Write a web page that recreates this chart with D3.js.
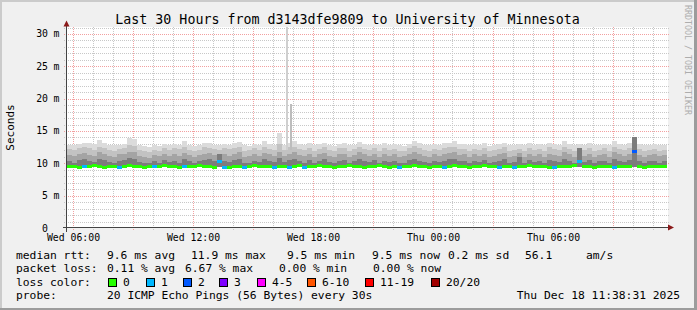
<!DOCTYPE html>
<html>
<head>
<meta charset="utf-8">
<script src="https://cdn.jsdelivr.net/npm/d3@7"></script>
<style>
  body { margin: 0; background: #f0f0f0; }
  svg { display: block; }
  text { font-family: "DejaVu Sans Mono", monospace; fill: #000; }
</style>
</head>
<body>
<svg class="chart"></svg>
<script>
// ---- data (values in ms, one column every 15 min from Wed 05:42) ----
const medianMs = [
  9.6,9.6,9.5,9.6,9.6,9.7,9.6,9.5,9.6,9.6, 9.5,9.6,9.7,9.6,9.6,9.5,9.6,9.6,9.6,9.7,
  9.6,9.6,9.5,9.6,9.6,9.6,9.7,9.6,9.6,9.5, 10.4,9.5,9.5,9.6,9.6,9.5,9.6,9.7,9.6,9.6,
  9.6,9.5,9.6,9.6,9.5,9.6,9.7,9.5,9.6,9.6, 9.7,9.6,9.6,9.5,9.6,9.6,9.7,9.6,9.6,9.5,
  9.6,9.6,9.7,9.6,9.5,9.6,9.5,9.6,9.6,9.7, 9.6,9.6,9.5,9.6,9.6,9.5,9.6,9.7,9.6,9.6,
  9.5,9.6,9.6,9.7,9.6,9.6,9.5,9.6,9.6,9.5, 9.6,9.6,9.7,9.6,9.6,9.6,9.5,9.5,9.6,9.6,
  9.6,9.7,10.4,9.6,9.6,9.5,9.6,9.6,9.6,9.5, 9.6,9.6,9.6,11.9,9.6,9.5,9.6,9.6,9.6,9.6
]
const lostPings = [
  0,0,0,1,0,0,0,0,0,0, 1,0,0,0,0,0,0,1,0,0,
  0,0,0,1,0,0,0,0,0,0, 1,1,0,0,0,1,0,0,0,0,
  0,1,0,0,1,0,0,1,0,0, 0,0,0,0,0,0,0,0,0,0,
  0,0,0,0,0,0,1,0,0,0, 0,0,0,0,0,1,0,0,0,0,
  0,0,0,0,0,0,1,0,0,1, 0,0,0,0,0,0,0,1,0,0,
  0,0,1,0,0,0,0,0,0,1, 0,0,0,2,0,0,0,0,0,0
]
// lowest ping of each column (bottom of the smoke)
const smokeLow = [
  9.4,9.4,9.3,9.4,9.4,9.5,9.4,9.3,9.4,9.4, 9.3,9.4,9.5,9.4,9.4,9.3,9.4,9.4,9.4,9.5,
  9.4,9.4,9.3,9.4,9.4,9.4,9.5,9.4,9.4,9.3, 9.5,9.3,9.3,9.4,9.4,9.3,9.4,9.5,9.4,9.4,
  9.4,9.3,9.4,9.4,9.3,9.4,9.5,9.3,9.4,9.4, 9.5,9.4,9.4,9.3,9.4,9.4,9.5,9.4,9.4,9.3,
  9.4,9.4,9.5,9.4,9.3,9.4,9.3,9.4,9.4,9.5, 9.4,9.4,9.3,9.4,9.4,9.3,9.4,9.5,9.4,9.4,
  9.3,9.4,9.4,9.5,9.4,9.4,9.3,9.4,9.4,9.3, 9.4,9.4,9.5,9.4,9.4,9.4,9.3,9.3,9.4,9.4,
  9.4,9.5,9.4,9.4,9.4,9.3,9.4,9.4,9.4,9.3, 9.4,9.4,9.4,9.5,9.4,9.3,9.4,9.4,9.4,9.4
]
// smoke: top of each band, outermost (lightest) first
const smokeTop = [
  12.9,12.8,13.0,13.1,13.2,13.0,13.6,13.1,12.9,12.8, 12.9,13.0,13.9,13.8,12.9,12.7,12.6,12.8,12.7,13.0,
  12.8,13.0,12.9,13.5,12.9,12.7,12.8,13.1,13.2,12.9, 12.8,13.0,12.9,13.1,13.3,12.8,12.7,13.0,12.9,13.4,
  13.0,12.9,14.7,12.8,13.2,13.4,13.0,12.9,13.1,12.8, 13.0,13.2,12.9,12.7,13.0,13.1,12.8,12.9,13.3,13.0,
  12.9,13.0,12.8,13.1,12.9,13.0,12.8,12.7,13.0,13.5, 13.1,12.9,12.8,13.0,12.9,13.1,13.2,13.5,13.0,13.0,
  12.8,13.0,12.9,13.1,12.7,12.9,13.0,13.2,12.8,12.9, 13.0,12.8,13.1,12.9,13.0,12.8,13.2,13.0,12.9,13.4,
  13.0,12.8,13.0,12.9,13.1,12.8,12.9,13.0,12.8,13.5, 13.0,12.9,13.1,14.1,13.0,12.8,12.9,13.0,12.8,12.9
]
const smokeQ2 = [
  12.2,12.0,12.3,12.5,12.3,12.1,12.6,12.4,12.0,11.9, 12.2,12.4,12.8,12.7,12.1,11.9,11.8,12.1,11.9,12.3,
  12.0,12.3,12.2,12.6,12.1,11.9,12.1,12.5,12.4,12.2, 12.1,12.4,12.2,12.3,12.6,11.9,12.0,12.3,12.0,12.5,
  12.2,12.0,13.0,12.1,12.5,12.6,12.2,12.0,12.4,11.9, 12.2,12.5,12.1,11.9,12.3,12.4,11.9,12.2,12.6,12.2,
  12.0,12.3,11.9,12.4,12.1,12.2,11.9,11.9,12.3,12.7, 12.4,12.1,11.9,12.2,12.0,12.3,12.5,12.6,12.2,12.2,
  11.9,12.2,12.0,12.4,11.9,12.1,12.2,12.5,11.9,12.1, 12.2,11.9,12.4,12.1,12.2,11.9,12.5,12.2,12.0,12.6,
  12.2,11.9,12.4,12.1,12.4,11.9,12.1,12.3,11.9,12.6, 12.2,12.0,12.4,14.0,12.2,11.9,12.1,12.2,11.9,12.1
]
const smokeQ3 = [
  11.3,11.1,11.5,11.6,11.3,11.2,11.7,11.5,11.2,11.0, 11.4,11.5,11.8,11.7,11.2,11.0,10.9,11.3,11.1,11.5,
  11.2,11.4,11.2,11.6,11.3,11.0,11.3,11.5,11.6,11.3, 11.5,11.4,11.2,11.5,11.7,11.0,11.1,11.4,11.2,11.6,
  11.4,11.2,11.8,11.2,11.5,11.7,11.3,11.1,11.5,11.0, 11.4,11.6,11.2,11.0,11.4,11.5,11.0,11.3,11.7,11.4,
  11.2,11.5,11.0,11.4,11.2,11.4,11.0,11.1,11.5,11.7, 11.4,11.2,11.0,11.4,11.2,11.4,11.6,11.7,11.3,11.4,
  11.0,11.4,11.2,11.5,11.0,11.2,11.4,11.6,11.0,11.2, 11.6,11.0,11.5,11.2,11.4,11.0,11.5,11.3,11.2,11.7,
  11.4,11.0,12.4,11.2,11.5,11.0,11.3,11.4,11.0,11.7, 11.4,11.2,11.5,14.0,11.3,11.0,11.3,11.4,11.1,11.3
]
const smokeQ4 = [
  10.3,10.1,10.5,10.6,10.3,10.2,10.7,10.5,10.2,10.0, 10.4,10.5,10.8,10.6,10.2,10.0,10.0,10.3,10.1,10.5,
  10.2,10.4,10.1,10.6,10.3,10.0,10.3,10.5,10.6,10.3, 11.4,10.4,10.2,10.5,10.7,10.0,10.1,10.4,10.2,10.6,
  10.4,10.2,10.8,10.2,10.5,10.7,10.3,10.1,10.5,10.0, 10.4,10.6,10.2,10.0,10.4,10.5,10.0,10.3,10.7,10.4,
  10.2,10.5,10.0,10.4,10.2,10.4,10.0,10.1,10.5,10.7, 10.4,10.2,10.0,10.4,10.2,10.4,10.6,10.7,10.3,10.4,
  10.0,10.4,10.2,10.5,10.0,10.2,10.4,10.6,10.0,10.2, 11.0,10.0,10.5,10.2,10.4,10.0,10.5,10.3,10.2,10.7,
  10.4,10.0,12.4,10.2,10.5,10.0,10.3,10.4,10.0,10.7, 10.4,10.2,10.5,14.0,10.3,10.0,10.3,10.4,10.1,10.3
]
// single outlier pings (narrow spikes)
const spikeTimes = [new Date(2025, 11, 17, 16, 42), new Date(2025, 11, 17, 16, 54)]
const spikeTops = [31.1, 19.2]

const yTicks = [0, 5, 10, 15, 20, 25, 30]
const lossLabels = ["0", "1", "2", "3", "4-5", "6-10", "11-19", "20/20"]
const lossColors = ["#26ff00", "#00b8ff", "#0059ff", "#7e00ff", "#ff00ff", "#ff5500", "#ff0000", "#a10000"]
const titleText = "Last 30 Hours from d3143dfe9809 to University of Minnesota"
const rttStats = ["9.6 ms avg", "11.9 ms max", "9.5 ms min", "9.5 ms now", "0.2 ms sd", "56.1", "am/s"]
const lossStats = ["0.11 % avg", "6.67 % max", "0.00 % min", "0.00 % now"]
const probeText = "20 ICMP Echo Pings (56 Bytes) every 30s"
const stampText = "Thu Dec 18 11:38:31 2025"

// ---- layout ----
const W = 697, H = 310
const plot = {left: 67, right: 667, top: 27, bottom: 228}
const t0 = new Date(2025, 11, 17, 5, 42), t1 = new Date(2025, 11, 18, 11, 42)
const colTimes = d3.range(medianMs.length + 1).map(i => d3.timeMinute.offset(t0, i * 15))

let x = d3.scaleTime().domain([t0, t1]).range([plot.left, plot.right])
let y = d3.scaleLinear().domain([0, 31.08]).range([plot.bottom, plot.top])

let svg = d3.select(".chart").attr("width", W).attr("height", H)

// background + rrdtool style frame
svg.append("rect").attr("width", W).attr("height", H).attr("fill", "#f0f0f0")
svg.append("rect").attr("x", 0).attr("y", 0).attr("width", W).attr("height", 2).attr("fill", "#cbcbcb")
svg.append("rect").attr("x", 0).attr("y", 0).attr("width", 2).attr("height", H).attr("fill", "#cbcbcb")
svg.append("rect").attr("x", W - 3).attr("y", 0).attr("width", 3).attr("height", H).attr("fill", "#9c9c9c")
svg.append("rect").attr("x", 0).attr("y", H - 2).attr("width", W).attr("height", 2).attr("fill", "#9c9c9c")

// canvas
svg.append("rect")
  .attr("x", plot.left).attr("y", plot.top)
  .attr("width", plot.right - plot.left + 1).attr("height", plot.bottom - plot.top)
  .attr("fill", "#fff")

// grid (dotted), minor then major
let grid = svg.append("g").attr("shape-rendering", "crispEdges").attr("stroke-width", 1).attr("stroke-dasharray", "1,1")
d3.range(1, 32).filter(v => v % 5 != 0).forEach(v => {
  grid.append("line").attr("x1", plot.left - 3).attr("x2", plot.right + 3)
    .attr("y1", Math.round(y(v)) + 0.5).attr("y2", Math.round(y(v)) + 0.5).attr("stroke", "#c8c8c8")
})
x.ticks(d3.timeHour.every(1)).filter(d => d.getHours() % 3 != 0).forEach(d => {
  grid.append("line").attr("y1", plot.top).attr("y2", plot.bottom + 3)
    .attr("x1", Math.floor(x(d)) + 0.5).attr("x2", Math.floor(x(d)) + 0.5).attr("stroke", "#c8c8c8")
})
yTicks.filter(v => v > 0).forEach(v => {
  grid.append("line").attr("x1", plot.left - 3).attr("x2", plot.right + 3)
    .attr("y1", Math.round(y(v)) + 0.5).attr("y2", Math.round(y(v)) + 0.5).attr("stroke", "#f2a0a0")
})
x.ticks(d3.timeHour.every(3)).forEach(d => {
  grid.append("line").attr("y1", plot.top).attr("y2", plot.bottom + 3)
    .attr("x1", Math.floor(x(d)) + 0.5).attr("x2", Math.floor(x(d)) + 0.5).attr("stroke", "#f2a0a0")
})

// smoke bands, lightest (outer) first
const bands = [
  {vals: smokeTop, color: "#dbdbdb"},
  {vals: smokeQ2, color: "#c2c2c2"},
  {vals: smokeQ3, color: "#a4a4a4"},
  {vals: smokeQ4, color: "#7c7c7c"}
]
let smoke = svg.append("g").attr("shape-rendering", "crispEdges")
bands.forEach(b => {
  smoke.selectAll(null)
    .data(smokeLow)
    .enter().append("rect")
    .attr("x", (d, i) => Math.round(x(colTimes[i])))
    .attr("width", (d, i) => Math.round(x(colTimes[i + 1])) - Math.round(x(colTimes[i])))
    .attr("y", (d, i) => Math.round(y(b.vals[i])))
    .attr("height", (d, i) => Math.round(y(d)) - Math.round(y(b.vals[i])))
    .attr("fill", b.color)
})

// outlier spikes
svg.append("g").attr("shape-rendering", "crispEdges").selectAll("rect")
  .data(spikeTimes)
  .enter().append("rect")
  .attr("x", d => Math.round(x(d)) - 1)
  .attr("width", 2)
  .attr("y", (d, i) => Math.round(y(spikeTops[i])))
  .attr("height", (d, i) => Math.round(y(12)) - Math.round(y(spikeTops[i])))
  .attr("fill", (d, i) => i == 0 ? "#cfcfcf" : "#bdbdbd")

// median, coloured by lost pings
function lossIndex(n) {
  if (n <= 3) return n
  if (n <= 5) return 4
  if (n <= 10) return 5
  if (n <= 19) return 6
  return 7
}
svg.append("g").attr("shape-rendering", "crispEdges").selectAll("rect")
  .data(medianMs)
  .enter().append("rect")
  .attr("x", (d, i) => Math.round(x(colTimes[i])))
  .attr("width", (d, i) => Math.round(x(colTimes[i + 1])) - Math.round(x(colTimes[i])))
  .attr("y", d => Math.round(y(d)) - 1)
  .attr("height", 3)
  .attr("fill", (d, i) => lossColors[lossIndex(lostPings[i])])

// axes
let ax = svg.append("g").attr("shape-rendering", "crispEdges")
ax.append("line").attr("x1", 66.5).attr("x2", 66.5).attr("y1", 232).attr("y2", 24).attr("stroke", "#444")
ax.append("line").attr("x1", 63).attr("x2", 670).attr("y1", 227.5).attr("y2", 227.5).attr("stroke", "#444")
svg.append("path").attr("d", "M63.5,26.5 L69.5,26.5 L66.5,20.5 Z").attr("fill", "#8b1a1a")
svg.append("path").attr("d", "M668,224.5 L668,230.5 L674,227.5 Z").attr("fill", "#8b1a1a")

// y tick labels (number + SI unit column)
yTicks.forEach(v => {
  svg.append("text").attr("x", 48).attr("y", y(v) + 3.5).attr("text-anchor", "end")
    .style("font-size", "9.8px").text(v == 0 ? "0" : d3.format("d")(v))
  if (v > 0) svg.append("text").attr("x", 53.5).attr("y", y(v) + 3.5)
    .style("font-size", "9.8px").text("m")
})

// x tick labels
let xFmt = d3.timeFormat("%a %H:%M")
x.ticks(d3.timeHour.every(6)).forEach(d => {
  svg.append("text").attr("x", Math.floor(x(d)) + 0.5).attr("y", 241).attr("text-anchor", "middle")
    .style("font-size", "9.8px").text(xFmt(d))
})

// title, vertical label, watermark
svg.append("text").attr("x", 347.5).attr("y", 24).attr("text-anchor", "middle")
  .style("font-size", "13.3px").text(titleText)
svg.append("text").attr("transform", "translate(14," + ((plot.top + plot.bottom) / 2) + ") rotate(-90)")
  .attr("text-anchor", "middle").style("font-size", "11px").text("Seconds")
svg.append("text").attr("transform", "translate(685,5) rotate(90)")
  .style("font-size", "8.3px").style("fill", "#adadad").text("RRDTOOL / TOBI OETIKER")

// legend
const lx = 16, rows = [258.5, 272, 285.7, 299.3]
let leg = svg.append("g").style("font-size", "11.3px").attr("xml:space", "preserve")
leg.append("text").attr("x", lx).attr("y", rows[0]).text("median rtt:")
const rttX = [107, 191, 287, 372, 448, 525, 586]
rttStats.forEach((s, i) => leg.append("text").attr("x", rttX[i]).attr("y", rows[0]).text(s))
leg.append("text").attr("x", lx).attr("y", rows[1]).text("packet loss:")
const lossX = [107, 185, 279, 373]
lossStats.forEach((s, i) => leg.append("text").attr("x", lossX[i]).attr("y", rows[1]).text(s))
leg.append("text").attr("x", lx).attr("y", rows[2]).text("loss color:")
const boxX = [108, 146, 183, 219, 257, 307, 365, 431]
lossLabels.forEach((s, i) => {
  leg.append("rect").attr("x", boxX[i] + 0.5).attr("y", 278.5).attr("width", 8).attr("height", 8)
    .attr("fill", lossColors[i]).attr("stroke", "#000").attr("stroke-width", 1)
  leg.append("text").attr("x", boxX[i] + 15).attr("y", rows[2]).text(s)
})
leg.append("text").attr("x", lx).attr("y", rows[3]).text("probe:")
leg.append("text").attr("x", 107).attr("y", rows[3]).text(probeText)
leg.append("text").attr("x", 680).attr("y", rows[3]).attr("text-anchor", "end").text(stampText)
</script>
</body>
</html>
